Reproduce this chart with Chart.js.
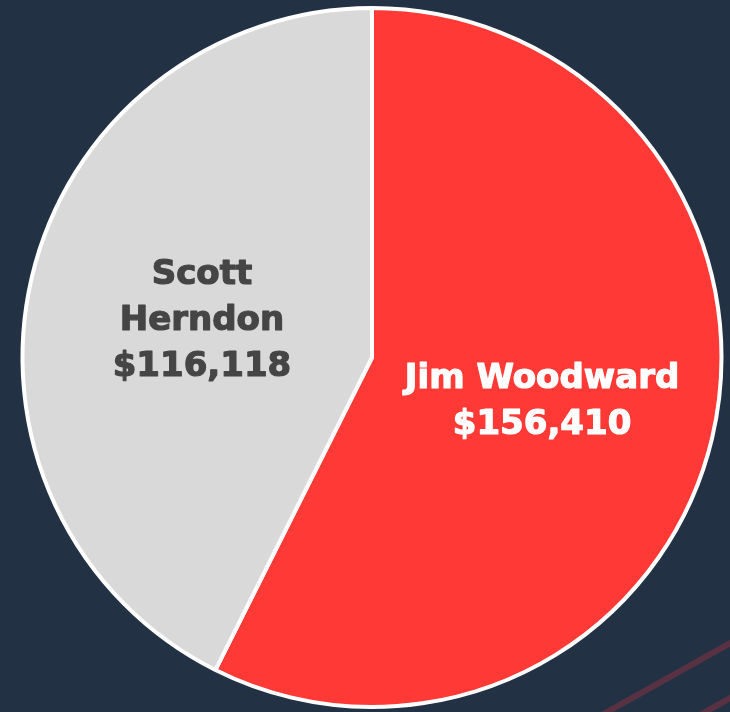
<!DOCTYPE html>
<html>
<head>
<meta charset="utf-8">
<script src="https://cdn.jsdelivr.net/npm/chart.js@4.4.1/dist/chart.umd.min.js"></script>
<style>
  html, body { margin: 0; padding: 0; background: #223244; }
  #wrap { width: 730px; height: 712px; position: relative; }
</style>
</head>
<body>
<div id="wrap"><canvas id="pie-chart"></canvas></div>
<script>
// data
const candidates = ['Jim Woodward', 'Scott Herndon'];
const amounts = [156410, 116118];
const sliceColors = ['#ff3935', '#d9d9d9'];
const labelColors = ['#ffffff', '#454545'];
// how each label is split into lines
const labelLines = [['Jim Woodward'], ['Scott', 'Herndon']];

function money(v) {
  return '$' + v.toLocaleString('en-US');
}

// faint red streaks in the bottom right corner
const backdrop = {
  id: 'backdrop',
  beforeDraw(chart) {
    const ctx = chart.ctx;
    ctx.save();
    ctx.fillStyle = '#223244';
    ctx.fillRect(0, 0, chart.width, chart.height);
    ctx.strokeStyle = 'rgba(170, 50, 65, 0.4)';
    ctx.lineWidth = 6;
    ctx.beginPath();
    ctx.moveTo(600, 716);
    ctx.lineTo(734, 641);
    ctx.moveTo(698, 716);
    ctx.lineTo(734, 696);
    ctx.stroke();
    ctx.restore();
  }
};

// names + amounts written inside the slices
const sliceLabels = {
  id: 'sliceLabels',
  afterDatasetsDraw(chart) {
    const ctx = chart.ctx;
    const meta = chart.getDatasetMeta(0);
    ctx.save();
    ctx.font = 'bold 34px "DejaVu Sans"';
    ctx.textAlign = 'center';
    ctx.textBaseline = 'middle';
    ctx.lineWidth = 1.2;
    ctx.lineJoin = 'round';
    meta.data.forEach(function (arc, i) {
      const pos = arc.tooltipPosition();
      const lines = labelLines[i].concat([money(amounts[i])]);
      const lh = 46;
      const top = pos.y + 4 - (lines.length - 1) * lh / 2;
      ctx.fillStyle = labelColors[i];
      ctx.strokeStyle = labelColors[i];
      lines.forEach(function (t, j) {
        ctx.fillText(t, pos.x, top + j * lh);
        ctx.strokeText(t, pos.x, top + j * lh);
      });
    });
    ctx.restore();
  }
};

const ctx = document.getElementById('pie-chart').getContext('2d');
const pieChart = new Chart(ctx, {
  type: 'pie',
  data: {
    labels: candidates,
    datasets: [{
      data: amounts,
      backgroundColor: sliceColors,
      borderColor: '#ffffff',
      borderWidth: 4
    }]
  },
  options: {
    responsive: true,
    maintainAspectRatio: false,
    animation: false,
    layout: { padding: { left: 20, top: 6, right: 6, bottom: 3 } },
    plugins: {
      legend: { display: false },
      tooltip: { enabled: false }
    }
  },
  plugins: [backdrop, sliceLabels]
});

document.getElementById('wrap').style.height = '712px';
</script>
</body>
</html>
